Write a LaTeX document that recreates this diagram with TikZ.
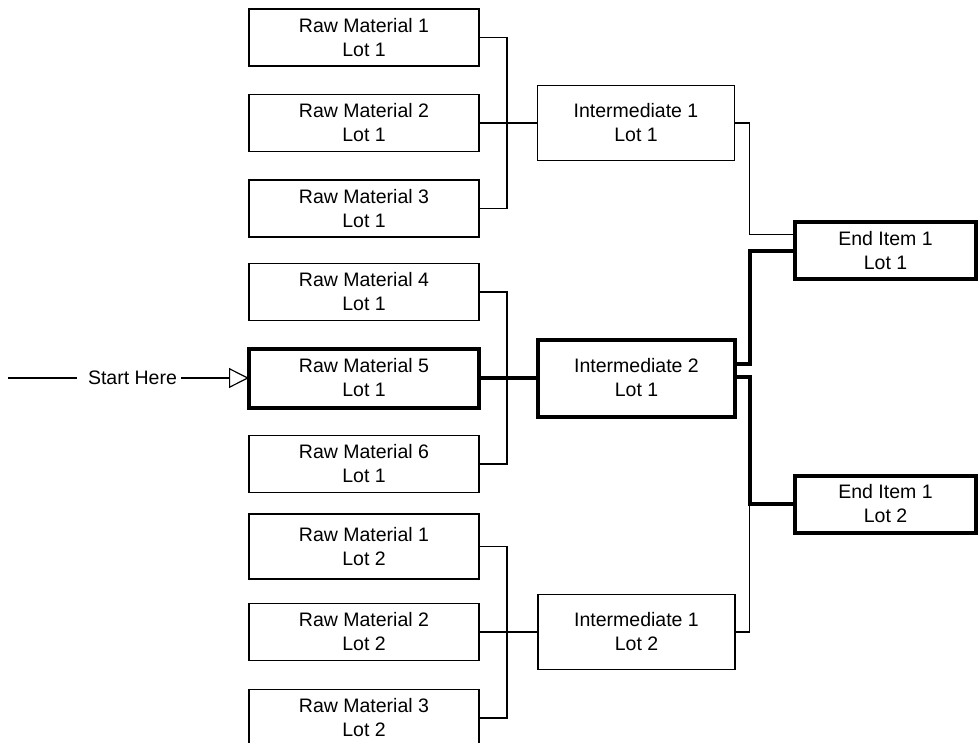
\documentclass[tikz,border=0pt]{standalone}
\usepackage{fontspec}
\setmainfont{Liberation Sans}
\usetikzlibrary{arrows.meta}
\begin{document}
\begin{tikzpicture}[x=1pt,y=-1pt,
  box/.style={draw=black, line width=1.2pt, outer sep=0pt, inner sep=0pt, align=center,
    font=\fontsize{19.5}{24}\selectfont, fill=white},
  rawbox/.style={box, minimum width=230pt, minimum height=57pt},
  midbox/.style={box, minimum width=197pt, minimum height=75pt},
  endbox/.style={box, minimum width=181pt, minimum height=57pt},
  bold/.style={line width=4pt},
  thin/.style={draw=black, line width=1.2pt},
  thickc/.style={draw=black, line width=4pt},
]
\useasboundingbox (0,0) rectangle (979,742);
\clip (0,0) rectangle (979,742);

% raw materials
\node[rawbox] (rm1) at (364,37.5) {Raw Material 1\\Lot 1};
\node[rawbox] (rm2) at (364,123) {Raw Material 2\\Lot 1};
\node[rawbox] (rm3) at (364,208.5) {Raw Material 3\\Lot 1};
\node[rawbox] (rm4) at (364,292) {Raw Material 4\\Lot 1};
\node[rawbox, bold, minimum height=59pt] (rm5) at (364,378) {Raw Material 5\\Lot 1};
\node[rawbox] (rm6) at (364,464) {Raw Material 6\\Lot 1};
\node[rawbox, minimum height=65pt] (rm7) at (364,546.5) {Raw Material 1\\Lot 2};
\node[rawbox] (rm8) at (364,632) {Raw Material 2\\Lot 2};
\node[rawbox] (rm9) at (364,718) {Raw Material 3\\Lot 2};

% intermediates
\node[midbox] (int1) at (636,123) {Intermediate 1\\Lot 1};
\node[midbox, bold, minimum height=77pt] (int2) at (636.5,378) {Intermediate 2\\Lot 1};
\node[midbox] (int3) at (636.5,632) {Intermediate 1\\Lot 2};

% end items
\node[endbox, bold] (ei1) at (885.5,250.5) {End Item 1\\Lot 1};
\node[endbox, bold] (ei2) at (885.5,504) {End Item 1\\Lot 2};

% raw -> intermediate connectors
\draw[thin] (rm1.east) -| ([xshift=28pt]rm2.east) |- (rm3.east);
\draw[thin] (rm2.east) -- (int1.west);
\draw[thin] (rm4.east) -| ([xshift=28pt]rm5.east) |- (rm6.east);
\draw[thin] (rm7.east) -| ([xshift=28pt]rm8.east) |- (rm9.east);
\draw[thin] (rm8.east) -- (int3.west);
\draw[thickc] (rm5.east) -- (int2.west);

% intermediate -> end item connectors
\draw[thin] (int1.east) -| ([xshift=-45.5pt,yshift=16pt]ei1.west) -- ([yshift=16pt]ei1.west);
\draw[thin] (int3.east) -| ([xshift=-45.5pt]ei2.west);
\draw[thickc] ([yshift=14pt]int2.east) -| ([xshift=-45.5pt]ei1.west) -- (ei1.west);
\draw[thickc] ([yshift=1pt]int2.east) -| ([xshift=-45.5pt]ei2.west) -- (ei2.west);

% start
\coordinate (s) at (8,378);
\node[font=\fontsize{19.5}{24}\selectfont, inner sep=0pt] (lbl) at (132.5,378) {Start Here};
\draw[thin, shorten >=11pt] (s) -- (lbl.west);
\draw[thin, shorten <=4pt, -{Triangle[open,length=20pt,width=20pt]}] (lbl.east) -- (rm5.west);
\end{tikzpicture}
\end{document}
